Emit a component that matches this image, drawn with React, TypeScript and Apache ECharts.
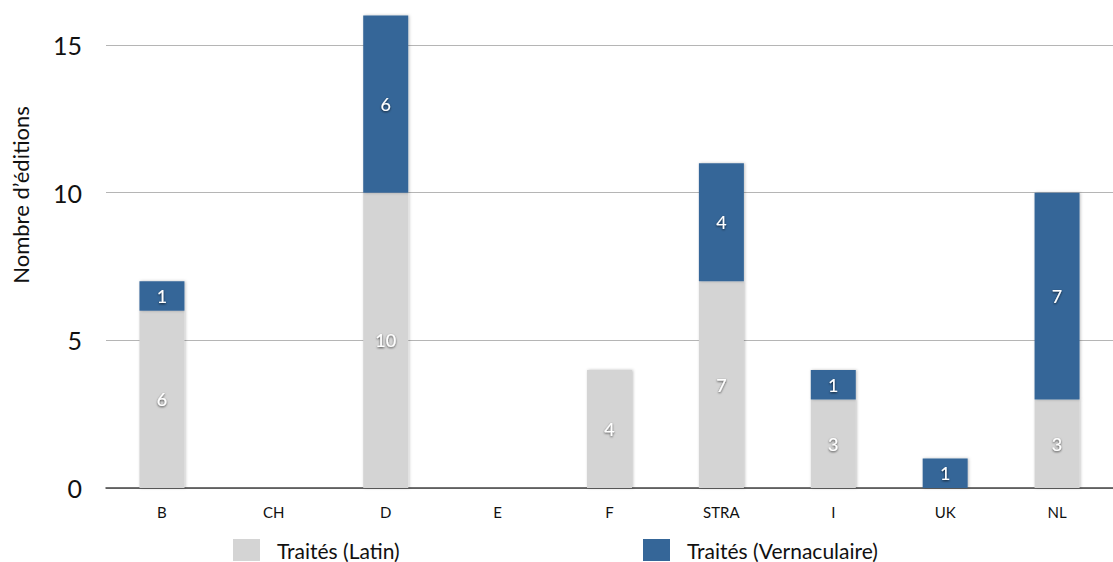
import React, { useEffect, useRef } from "react";
import * as echarts from "echarts";

const categories = ["B", "CH", "D", "E", "F", "STRA", "I", "UK", "NL"];
const latin = [6, null, 10, null, 4, 7, 3, null, 3];
const vernaculaire = [1, null, 6, null, null, 4, 1, 1, 7];
const seriesNames = ["Traités (Latin)", "Traités (Vernaculaire)"];
const yTitle = "Nombre d’éditions";

const FONT = "Lato, 'Open Sans', sans-serif";

export default function App() {
  const ref = useRef<HTMLDivElement>(null);
  useEffect(() => {
    const chart = echarts.init(ref.current!, null, { renderer: "svg" });
    const label = {
      show: true,
      position: "inside",
      color: "#ffffff",
      fontSize: 18,
      fontFamily: FONT,
      textShadowColor: "rgba(0,0,0,0.7)",
      textShadowBlur: 2,
      textShadowOffsetX: 0,
      textShadowOffsetY: 1,
    };
    const legendBase = {
      top: 539,
      itemWidth: 27,
      itemHeight: 22,
      itemGap: 0,
      padding: 0,
      icon: "rect",
      textStyle: {
        fontSize: 21,
        lineHeight: 19,
        color: "#111",
        fontFamily: FONT,
        padding: [0, 0, 0, 12],
      },
    };
    chart.setOption({
      animation: false,
      grid: { left: 106, right: 0, top: 9.6, bottom: 74 },
      legend: [
        { ...legendBase, data: [seriesNames[0]], left: 233 },
        { ...legendBase, data: [seriesNames[1]], left: 643 },
      ],
      graphic: [
        {
          type: "text",
          x: 20,
          y: 195,
          rotation: Math.PI / 2,
          style: {
            text: yTitle,
            fontSize: 22,
            fontFamily: FONT,
            fill: "#111",
            align: "center",
            verticalAlign: "middle",
          },
        },
      ],
      xAxis: {
        type: "category",
        data: categories,
        axisLine: { show: true, lineStyle: { color: "#444", width: 1.5 } },
        axisTick: { show: false },
        axisLabel: { color: "#111", fontSize: 15, fontFamily: FONT, margin: 16 },
      },
      yAxis: {
        type: "value",
        min: 0,
        max: 16.2,
        interval: 5,
        axisLine: { show: false },
        axisTick: { show: false },
        axisLabel: {
          color: "#111",
          fontSize: 25,
          fontFamily: FONT,
          margin: 24,
          showMaxLabel: false,
        },
        splitLine: { show: true, showMaxLine: false, lineStyle: { color: "#b5b5b5", width: 1 } },
      },
      series: [
        {
          name: seriesNames[0],
          type: "bar",
          stack: "total",
          data: latin,
          barWidth: 45,
          itemStyle: {
            color: "#d4d4d4",
            shadowColor: "rgba(0,0,0,0.25)",
            shadowBlur: 3,
            shadowOffsetX: 1,
          },
          label,
        },
        {
          name: seriesNames[1],
          type: "bar",
          stack: "total",
          data: vernaculaire,
          barWidth: 45,
          itemStyle: {
            color: "#356698",
            shadowColor: "rgba(0,0,0,0.25)",
            shadowBlur: 3,
            shadowOffsetX: 1,
          },
          label,
        },
      ],
    });
    return () => chart.dispose();
  }, []);
  return <div ref={ref} style={{ width: 1113, height: 562, position: "absolute", left: 0, top: 0 }} />;
}
